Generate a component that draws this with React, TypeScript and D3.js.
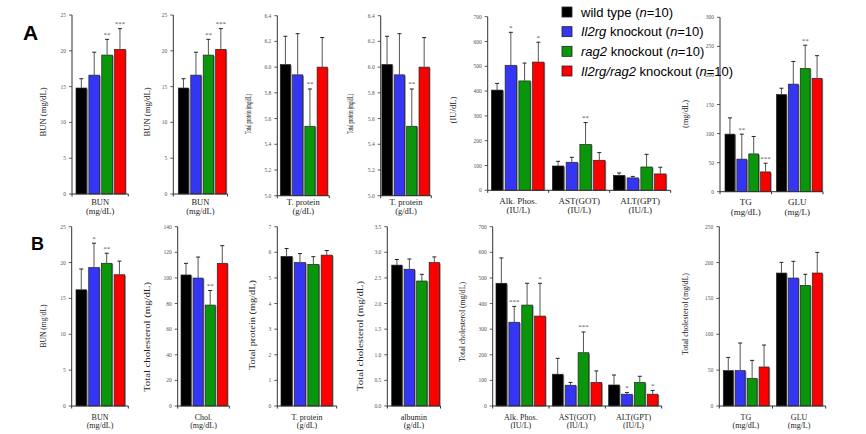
import React from "react";
import * as d3 from "d3";

// ---------- series ----------
const seriesNames = ["wild type", "Il2rg knockout", "rag2 knockout", "Il2rg/rag2 knockout"];
const seriesN = [10, 10, 10, 10];
const seriesColors = ["#000000", "#3535f5", "#0a960a", "#fc0000"];

// ---------- Row A data (mean, SD, significance) ----------
const bunA_mean = [14.8, 16.6, 19.4, 20.2];
const bunA_sd = [1.3, 3.2, 2.2, 2.9];
const bunA_sig = ["", "", "**", "***"];

const tpA_mean = [6.02, 5.94, 5.54, 6.0];
const tpA_sd = [0.22, 0.32, 0.29, 0.23];
const tpA_sig = ["", "", "**", ""];

const alpA_mean = [404, 504, 441, 517];
const alpA_sd = [27, 133, 72, 80];
const alpA_sig = ["", "*", "", "*"];
const astA_mean = [98, 113, 185, 121];
const astA_sd = [19, 20, 88, 31];
const astA_sig = ["", "", "**", ""];
const altA_mean = [60, 50, 94, 66];
const altA_sd = [10, 6, 51, 27];
const altA_sig = ["", "", "", ""];

const tgA_mean = [99, 56, 65, 34];
const tgA_sd = [28, 43, 30, 15];
const tgA_sig = ["", "**", "", "***"];
const gluA_mean = [167, 185, 212, 195];
const gluA_sd = [11, 39, 40, 39];
const gluA_sig = ["", "", "**", ""];

// ---------- Row B data ----------
const bunB_mean = [16.2, 19.3, 19.9, 18.3];
const bunB_sd = [2.9, 3.4, 1.4, 1.9];
const bunB_sig = ["", "*", "**", ""];

const cholB_mean = [102.3, 99.9, 78.8, 111.4];
const cholB_sd = [9.1, 16.4, 11.4, 13.8];
const cholB_sig = ["", "", "**", ""];

const tpB_mean = [5.84, 5.6, 5.53, 5.89];
const tpB_sd = [0.31, 0.35, 0.3, 0.18];
const tpB_sig = ["", "", "", ""];

const albB_mean = [2.75, 2.67, 2.44, 2.8];
const albB_sd = [0.11, 0.2, 0.13, 0.11];
const albB_sig = ["", "", "", ""];

const alpB_mean = [479, 327, 394, 351];
const alpB_sd = [99, 62, 85, 128];
const alpB_sig = ["", "***", "", "*"];
const astB_mean = [124, 81, 208, 92];
const astB_sd = [62, 11, 81, 45];
const astB_sig = ["", "", "***", ""];
const altB_mean = [82, 46, 92, 46];
const altB_sd = [39, 7, 24, 15];
const altB_sig = ["", "*", "", "*"];

const tgB_mean = [49.3, 49.3, 38.6, 54.4];
const tgB_sd = [18.5, 38.5, 25, 30.6];
const tgB_sig = ["", "", "", ""];
const gluB_mean = [185.4, 178.4, 168.2, 185.4];
const gluB_sd = [14.9, 23.3, 15.4, 28.8];
const gluB_sig = ["", "", "", ""];

// ---------- tick labels ----------
const ticksBUN = [0, 5, 10, 15, 20, 25];
const ticksTPA = [5.0, 5.2, 5.4, 5.6, 5.8, 6.0, 6.2, 6.4];
const ticksEnz = [0, 100, 200, 300, 400, 500, 600, 700];
const ticksMg300 = [0, 50, 100, 150, 200, 250, 300];
const ticksChol = [0, 20, 40, 60, 80, 100, 120, 140];
const ticksTPB = [0, 1, 2, 3, 4, 5, 6, 7];
const ticksAlb = [0, 0.5, 1.0, 1.5, 2.0, 2.5, 3.0, 3.5];
const ticksMg250 = [0, 50, 100, 150, 200, 250];

// ---------- category labels ----------
const catBUN = ["BUN", "(mg/dL)"];
const catTP = ["T. protein", "(g/dL)"];
const catChol = ["Chol.", "(mg/dL)"];
const catAlb = ["albumin", "(g/dL)"];
const catALP = ["Alk. Phos.", "(IU/L)"];
const catAST = ["AST(GOT)", "(IU/L)"];
const catALT = ["ALT(GPT)", "(IU/L)"];
const catTG = ["TG", "(mg/dL)"];
const catGLU = ["GLU", "(mg/L)"];

type Group = { label: string[]; mean: number[]; sd: number[]; sig: string[] };
type PanelDef = {
  x0: number; x1: number; yTop: number; yBot: number;
  ticks: number[]; dec: number;
  ylabel: string; ylx: number; lyc: number; ylen: number;
  groups: Group[]; padL: number; padR: number;
  l1: number; l2: number; xfs: number;
};

const SERIF = "'Liberation Serif', 'Times New Roman', serif";
const SANS = "'Liberation Sans', Arial, sans-serif";

function Panel({ p }: { p: PanelDef }) {
  const y = d3.scaleLinear()
    .domain([p.ticks[0], p.ticks[p.ticks.length - 1]])
    .range([p.yBot, p.yTop]);
  const gx = d3.scaleBand<number>()
    .domain(d3.range(p.groups.length))
    .range([p.x0, p.x1])
    .padding(0);
  const bx = d3.scaleBand<number>()
    .domain(d3.range(4))
    .range([p.padL, gx.bandwidth() - p.padR])
    .paddingInner(0.17)
    .paddingOuter(0);
  const bw = bx.bandwidth();
  const fmt = d3.format(p.dec ? ".1f" : "d");
  const dividers = d3.range(p.groups.length + 1).map((i) => p.x0 + i * gx.bandwidth());
  return (
    <g>
      {/* bars */}
      {p.groups.map((g, gi) => (
        <g key={gi}>
          {g.mean.map((m, si) => {
            const x = (gx(gi) as number) + (bx(si) as number);
            const yt = y(m);
            const ye = y(m + g.sd[si]);
            const cx = x + bw / 2;
            return (
              <g key={si}>
                <rect x={x + 1.2} y={yt + 0.8} width={bw} height={p.yBot - yt - 0.8} fill="#8c8c8c" />
                <rect x={x} y={yt} width={bw} height={p.yBot - yt} fill={seriesColors[si]} stroke="#222" strokeWidth={0.7} />
                <line x1={cx} x2={cx} y1={yt} y2={ye} stroke="#555" strokeWidth={1} />
                <line x1={cx - 2} x2={cx + 2} y1={ye} y2={ye} stroke="#222" strokeWidth={1} />
                {g.sig[si] ? (
                  <text x={cx} y={ye - 2.5} fontSize={7} textAnchor="middle" fill="#555" fontFamily={SERIF}>{g.sig[si]}</text>
                ) : null}
              </g>
            );
          })}
          <text x={(gx(gi) as number) + gx.bandwidth() / 2} y={p.l1} fontSize={p.xfs} textAnchor="middle" fill="#222" fontFamily={SERIF}>{g.label[0]}</text>
          <text x={(gx(gi) as number) + gx.bandwidth() / 2} y={p.l2} fontSize={p.xfs} textAnchor="middle" fill="#222" fontFamily={SERIF}>{g.label[1]}</text>
        </g>
      ))}
      {/* axes */}
      <line x1={p.x0} x2={p.x0} y1={p.yTop} y2={p.yBot} stroke="#333" strokeWidth={1} />
      <line x1={p.x0} x2={p.x1} y1={p.yBot} y2={p.yBot} stroke="#333" strokeWidth={1} />
      {dividers.map((d, i) => (
        <line key={i} x1={d} x2={d} y1={p.yBot} y2={p.yBot + 2.5} stroke="#333" strokeWidth={1} />
      ))}
      {p.ticks.map((t, i) => (
        <g key={i}>
          <line x1={p.x0 - 3} x2={p.x0} y1={y(t)} y2={y(t)} stroke="#333" strokeWidth={0.8} />
          <text x={p.x0 - 6} y={y(t) + 2} fontSize={5.5} textAnchor="end" fill="#555" fontFamily={SERIF}>{fmt(t)}</text>
        </g>
      ))}
      <text
        transform={`translate(${p.ylx + 3},${p.lyc}) rotate(-90)`}
        fontSize={8}
        textAnchor="middle"
        fill="#222"
        fontFamily={SERIF}
        textLength={p.ylen}
        lengthAdjust="spacingAndGlyphs"
      >{p.ylabel}</text>
    </g>
  );
}

function Legend() {
  const ly = d3.scaleLinear().domain([0, 3]).range([12, 71]);
  return (
    <g fontFamily={SANS} fontSize={13}>
      {seriesNames.map((name, i) => {
        const parts = name.split(" ");
        const gene = i === 0 ? null : parts[0];
        const rest = i === 0 ? name : parts.slice(1).join(" ");
        return (
          <g key={i}>
            <rect x={562} y={ly(i) - 5} width={10} height={10} fill={seriesColors[i]} stroke="#222" strokeWidth={0.8} />
            <text x={581} y={ly(i) + 4.7} fill="#000">
              {gene ? <tspan fontStyle="italic">{gene}</tspan> : null}
              <tspan>{(gene ? " " : "") + rest + " ("}</tspan>
              <tspan fontStyle="italic">n</tspan>
              <tspan>{"=" + seriesN[i] + ")"}</tspan>
            </text>
          </g>
        );
      })}
    </g>
  );
}

export default function App() {
  const W = 866, H = 434;
  const A1 = 204.5, A2 = 214, B1 = 419.5, B2 = 427.5;
  const panels: PanelDef[] = [
    { x0: 72, x1: 128.3, yTop: 15, yBot: 194, ticks: ticksBUN, dec: 0, ylabel: "BUN (mg/dL)", ylx: 43, lyc: 112, ylen: 49,
      groups: [{ label: catBUN, mean: bunA_mean, sd: bunA_sd, sig: bunA_sig }], padL: 4, padR: 3, l1: A1, l2: A2, xfs: 8.5 },
    { x0: 173.3, x1: 227.5, yTop: 15, yBot: 194, ticks: ticksBUN, dec: 0, ylabel: "BUN (mg/dL)", ylx: 147, lyc: 112, ylen: 49,
      groups: [{ label: catBUN, mean: bunA_mean, sd: bunA_sd, sig: bunA_sig }], padL: 5, padR: 1.5, l1: A1, l2: A2, xfs: 8.5 },
    { x0: 277.3, x1: 329.3, yTop: 15.7, yBot: 195.7, ticks: ticksTPA, dec: 1, ylabel: "Total protein (mg/dL)", ylx: 248, lyc: 114, ylen: 40,
      groups: [{ label: catTP, mean: tpA_mean, sd: tpA_sd, sig: tpA_sig }], padL: 3, padR: 2, l1: A1, l2: A2, xfs: 8.5 },
    { x0: 380.7, x1: 431.3, yTop: 15.7, yBot: 195.7, ticks: ticksTPA, dec: 1, ylabel: "Total protein (mg/dL)", ylx: 350, lyc: 114, ylen: 40,
      groups: [{ label: catTP, mean: tpA_mean, sd: tpA_sd, sig: tpA_sig }], padL: 1.2, padR: 2, l1: A1, l2: A2, xfs: 8.5 },
    { x0: 487.7, x1: 670.7, yTop: 16.7, yBot: 190.3, ticks: ticksEnz, dec: 0, ylabel: "(IU/dL)", ylx: 453, lyc: 110, ylen: 27,
      groups: [
        { label: catALP, mean: alpA_mean, sd: alpA_sd, sig: alpA_sig },
        { label: catAST, mean: astA_mean, sd: astA_sd, sig: astA_sig },
        { label: catALT, mean: altA_mean, sd: altA_sd, sig: altA_sig },
      ], padL: 3.7, padR: 4.7, l1: A1 - 1, l2: A2 - 1, xfs: 9 },
    { x0: 720, x1: 823, yTop: 17.3, yBot: 191.7, ticks: ticksMg300, dec: 0, ylabel: "(mg/dL)", ylx: 685, lyc: 114, ylen: 28,
      groups: [
        { label: catTG, mean: tgA_mean, sd: tgA_sd, sig: tgA_sig },
        { label: catGLU, mean: gluA_mean, sd: gluA_sd, sig: gluA_sig },
      ], padL: 5, padR: 1, l1: A1, l2: A2 + 0.5, xfs: 9 },

    { x0: 71.7, x1: 128.3, yTop: 226.7, yBot: 406, ticks: ticksBUN, dec: 0, ylabel: "BUN (mg/dL)", ylx: 43, lyc: 326, ylen: 43,
      groups: [{ label: catBUN, mean: bunB_mean, sd: bunB_sd, sig: bunB_sig }], padL: 4.3, padR: 3.6, l1: B1, l2: B2, xfs: 8 },
    { x0: 177.7, x1: 229.3, yTop: 226.7, yBot: 406, ticks: ticksChol, dec: 0, ylabel: "Total cholesterol (mg/dL)", ylx: 147, lyc: 337, ylen: 110,
      groups: [{ label: catChol, mean: cholB_mean, sd: cholB_sd, sig: cholB_sig }], padL: 3.3, padR: 2, l1: B1, l2: B2, xfs: 8 },
    { x0: 277.3, x1: 336.7, yTop: 226.7, yBot: 406, ticks: ticksTPB, dec: 0, ylabel: "Total protein (mg/dL)", ylx: 252, lyc: 325, ylen: 90,
      groups: [{ label: catTP, mean: tpB_mean, sd: tpB_sd, sig: tpB_sig }], padL: 3.7, padR: 4.4, l1: B1, l2: B2, xfs: 8 },
    { x0: 387.3, x1: 440.5, yTop: 226.7, yBot: 406, ticks: ticksAlb, dec: 1, ylabel: "Total cholesterol (mg/dL)", ylx: 360, lyc: 336, ylen: 110,
      groups: [{ label: catAlb, mean: albB_mean, sd: albB_sd, sig: albB_sig }], padL: 4.4, padR: 1, l1: B1, l2: B2, xfs: 8 },
    { x0: 492.7, x1: 661.7, yTop: 226.7, yBot: 406, ticks: ticksEnz, dec: 0, ylabel: "Total cholesterol (mg/dL)", ylx: 462, lyc: 322, ylen: 80,
      groups: [
        { label: catALP, mean: alpB_mean, sd: alpB_sd, sig: alpB_sig },
        { label: catAST, mean: astB_mean, sd: astB_sd, sig: astB_sig },
        { label: catALT, mean: altB_mean, sd: altB_sd, sig: altB_sig },
      ], padL: 3.3, padR: 3.7, l1: B1, l2: B2, xfs: 8 },
    { x0: 719.3, x1: 825.7, yTop: 226.7, yBot: 406, ticks: ticksMg250, dec: 0, ylabel: "Total cholesterol (mg/dL)", ylx: 685, lyc: 314, ylen: 82,
      groups: [
        { label: catTG, mean: tgB_mean, sd: tgB_sd, sig: tgB_sig },
        { label: catGLU, mean: gluB_mean, sd: gluB_sd, sig: gluB_sig },
      ], padL: 4, padR: 3.5, l1: B1, l2: B2, xfs: 8 },
  ];
  return (
    <svg width={W} height={H} style={{ position: "absolute", left: 0, top: 0, background: "#fff" }}>
      <rect width={W} height={H} fill="#fff" />
      {panels.map((p, i) => <Panel key={i} p={p} />)}
      <Legend />
      <text x={23} y={40} fontFamily={SANS} fontWeight="bold" fontSize={21} fill="#000">A</text>
      <text x={31} y={250} fontFamily={SANS} fontWeight="bold" fontSize={18} fill="#000">B</text>
    </svg>
  );
}
